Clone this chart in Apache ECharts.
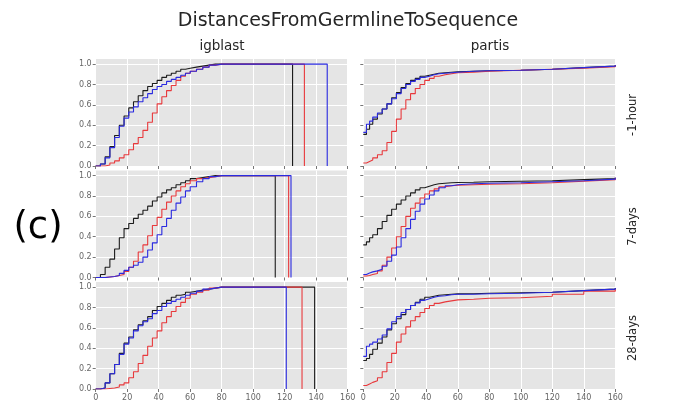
<!DOCTYPE html>
<html><head><meta charset="utf-8">
<script src="https://cdn.jsdelivr.net/npm/echarts@6/dist/echarts.min.js"></script>
<style>html,body{margin:0;padding:0;background:#fff}#c{width:677px;height:403px}</style>
</head><body><div id="c"></div>
<script>
// ---------- DATA ----------
const mainTitle = "DistancesFromGermlineToSequence";
const colTitles = ["igblast", "partis"];
const rowTitles = ["-1-hour", "7-days", "28-days"];
const panelLabel = "(c)";
const xTicks = [0, 20, 40, 60, 80, 100, 120, 140, 160];
const yTicks = [0.0, 0.2, 0.4, 0.6, 0.8, 1.0];

// cumulative fractions at these distances (igblast panels)
const xsLeft = [0,3,6,9,12,15,18,21,24,27,30,33,36,39,42,45,48,51,54,57,60,64,68,72,76,80];
// cumulative fractions at these distances (partis panels)
const xsRight = [0,2,4,6,9,12,15,18,21,24,27,30,33,36,39,42,45,48,52,56,60,70,80,100,120,140,160];

// igblast, -1-hour
const ig1hBlack = [0,0.02,0.09,0.19,0.30,0.40,0.49,0.57,0.63,0.69,0.74,0.78,0.81,0.84,0.87,0.89,0.91,0.93,0.95,0.96,0.97,0.98,0.99,1.0,1.0,1.0];
const ig1hRed   = [0,0,0.01,0.03,0.05,0.08,0.11,0.16,0.22,0.28,0.35,0.43,0.52,0.61,0.68,0.74,0.79,0.84,0.88,0.91,0.93,0.95,0.97,0.99,1.0,1.0];
const ig1hBlue  = [0,0.02,0.08,0.18,0.28,0.39,0.47,0.53,0.58,0.63,0.67,0.71,0.75,0.78,0.80,0.83,0.85,0.87,0.89,0.91,0.93,0.95,0.97,0.99,1.0,1.0];
const ig1hMax   = [125, 132.5, 147];   // black, red, blue
// igblast, 7-days
const ig7dBlack = [0,0.03,0.10,0.18,0.28,0.39,0.48,0.53,0.58,0.62,0.66,0.70,0.75,0.79,0.83,0.86,0.88,0.91,0.93,0.95,0.97,0.98,0.99,1.0,1.0,1.0];
const ig7dRed   = [0,0,0.005,0.01,0.02,0.03,0.06,0.10,0.16,0.25,0.32,0.41,0.51,0.59,0.67,0.74,0.80,0.85,0.89,0.92,0.95,0.97,0.98,0.99,1.0,1.0];
const ig7dBlue  = [0,0,0.005,0.01,0.02,0.04,0.07,0.10,0.12,0.15,0.20,0.27,0.34,0.42,0.50,0.58,0.66,0.73,0.79,0.85,0.89,0.94,0.97,0.99,1.0,1.0];
const ig7dMax   = [114, 122.5, 124];
// igblast, 28-days
const ig28Black = [0,0.01,0.06,0.15,0.24,0.35,0.45,0.51,0.58,0.63,0.67,0.71,0.77,0.81,0.84,0.87,0.90,0.92,0.93,0.95,0.96,0.97,0.98,0.99,1.0,1.0];
const ig28Red   = [0,0,0.005,0.01,0.02,0.04,0.06,0.11,0.17,0.25,0.33,0.42,0.50,0.57,0.65,0.71,0.76,0.81,0.85,0.89,0.93,0.95,0.97,0.99,1.0,1.0];
const ig28Blue  = [0,0.01,0.06,0.15,0.24,0.34,0.44,0.50,0.57,0.62,0.66,0.69,0.74,0.77,0.81,0.84,0.86,0.88,0.90,0.92,0.94,0.96,0.98,0.99,1.0,1.0];
const ig28Max   = [139, 131, 121];

// partis, -1-hour
const pa1hBlack = [0.31,0.36,0.41,0.46,0.51,0.56,0.61,0.67,0.72,0.77,0.81,0.84,0.86,0.88,0.89,0.90,0.91,0.915,0.92,0.925,0.93,0.935,0.94,0.95,0.965,0.98,0.99];
const pa1hRed   = [0.03,0.045,0.06,0.08,0.11,0.15,0.23,0.34,0.46,0.56,0.65,0.71,0.76,0.80,0.84,0.86,0.88,0.895,0.905,0.915,0.92,0.93,0.94,0.95,0.96,0.975,0.99];
const pa1hBlue  = [0.33,0.41,0.44,0.48,0.52,0.56,0.61,0.66,0.71,0.76,0.80,0.83,0.85,0.87,0.88,0.895,0.905,0.91,0.915,0.92,0.93,0.935,0.94,0.95,0.965,0.98,0.99];
// partis, 7-days
const pa7dBlack = [0.32,0.35,0.39,0.42,0.48,0.55,0.61,0.67,0.72,0.76,0.80,0.83,0.86,0.88,0.895,0.91,0.92,0.925,0.93,0.932,0.935,0.94,0.945,0.95,0.96,0.97,0.98];
const pa7dRed   = [0.015,0.02,0.03,0.04,0.065,0.12,0.20,0.29,0.40,0.50,0.60,0.68,0.73,0.78,0.82,0.85,0.87,0.89,0.90,0.905,0.91,0.915,0.92,0.93,0.945,0.96,0.98];
const pa7dBlue  = [0.03,0.045,0.055,0.065,0.08,0.11,0.16,0.22,0.30,0.39,0.48,0.57,0.65,0.72,0.77,0.81,0.85,0.88,0.90,0.91,0.92,0.925,0.93,0.94,0.95,0.965,0.98];
// partis, 28-days
const pa28Black = [0.28,0.30,0.34,0.39,0.45,0.51,0.58,0.64,0.69,0.73,0.78,0.82,0.85,0.88,0.90,0.91,0.92,0.925,0.93,0.933,0.935,0.94,0.945,0.95,0.965,0.98,0.99];
const pa28Red   = [0.035,0.05,0.065,0.08,0.11,0.17,0.26,0.35,0.46,0.54,0.61,0.67,0.71,0.75,0.79,0.82,0.84,0.855,0.865,0.875,0.88,0.89,0.895,0.91,0.93,0.96,0.98];
const pa28Blue  = [0.32,0.42,0.44,0.46,0.49,0.53,0.59,0.66,0.71,0.75,0.78,0.82,0.845,0.87,0.885,0.90,0.91,0.915,0.925,0.93,0.93,0.935,0.94,0.95,0.965,0.98,0.99];

// ---------- LAYOUT / STYLE ----------
const colors = ['#1c1c1c', '#e8393c', '#2a2ae0'];
const colLeft = [95.7, 363.3];
const colWidth = 252;
const rowTop = [59, 170.5, 282];
const rowHeight = 107;
const font = 'DejaVu Sans';

const panels = [
  {r:0,c:0, ys:[ig1hBlack, ig1hRed, ig1hBlue], max: ig1hMax},
  {r:0,c:1, ys:[pa1hBlack, pa1hRed, pa1hBlue]},
  {r:1,c:0, ys:[ig7dBlack, ig7dRed, ig7dBlue], max: ig7dMax},
  {r:1,c:1, ys:[pa7dBlack, pa7dRed, pa7dBlue]},
  {r:2,c:0, ys:[ig28Black, ig28Red, ig28Blue], max: ig28Max},
  {r:2,c:1, ys:[pa28Black, pa28Red, pa28Blue]},
];

const grid = [], xAxis = [], yAxis = [], series = [];
panels.forEach((p, i) => {
  grid.push({left: colLeft[p.c], top: rowTop[p.r], width: colWidth, height: rowHeight,
    show: true, backgroundColor: '#e5e5e5', borderWidth: 0, containLabel: false});
  xAxis.push({type: 'value', gridIndex: i, min: xTicks[0], max: xTicks[xTicks.length-1], interval: 20,
    axisLine: {show: false},
    axisTick: {show: true, length: 3, lineStyle: {color: '#777', width: 1}},
    axisLabel: {show: p.r === 2, fontFamily: font, fontSize: 8, color: '#666', margin: 5},
    splitLine: {show: true, lineStyle: {color: '#ffffff', width: 1}}});
  yAxis.push({type: 'value', gridIndex: i, min: 0, max: 1.05, interval: 0.2,
    axisLine: {show: false},
    axisTick: {show: true, length: 3, lineStyle: {color: '#777', width: 1}, customValues: yTicks},
    axisLabel: {show: p.c === 0, fontFamily: font, fontSize: 8, color: '#666', margin: 4,
      customValues: yTicks, formatter: v => v.toFixed(1)},
    splitLine: {show: true, lineStyle: {color: '#ffffff', width: 1}}});
  const xs = p.c === 0 ? xsLeft : xsRight;
  p.ys.forEach((ys, k) => {
    const data = xs.map((x, j) => [x, ys[j]]);
    if (p.max) { data.push([p.max[k], 1.0]); data.push([p.max[k], 0]); }
    series.push({type: 'line', xAxisIndex: i, yAxisIndex: i, data: data, step: 'end',
      showSymbol: false, symbol: 'none', clip: true,
      lineStyle: {color: colors[k], width: 1.1}, z: 2 + k});
  });
});

const graphic = [
  {type: 'text', x: 348, y: 21, style: {text: mainTitle, font: '19px "DejaVu Sans"', fill: '#262626', align: 'center', verticalAlign: 'middle'}},
  {type: 'text', x: 222, y: 46, style: {text: colTitles[0], font: '13.5px "DejaVu Sans"', fill: '#262626', align: 'center', verticalAlign: 'middle'}},
  {type: 'text', x: 490, y: 46, style: {text: colTitles[1], font: '13.5px "DejaVu Sans"', fill: '#262626', align: 'center', verticalAlign: 'middle'}},
  {type: 'text', x: 38, y: 228, style: {text: panelLabel, font: '37px "DejaVu Sans"', fill: '#000', align: 'center', verticalAlign: 'middle'}},
];
rowTitles.forEach((t, r) => {
  graphic.push({type: 'text', x: 633, y: rowTop[r] + 5 + (rowHeight - 5) / 2, rotation: Math.PI / 2,
    style: {text: t, font: '11.5px "DejaVu Sans"', fill: '#262626', align: 'center', verticalAlign: 'middle'}});
});

const chart = echarts.init(document.getElementById('c'), null, {renderer: 'canvas'});
chart.setOption({animation: false, backgroundColor: '#ffffff', grid, xAxis, yAxis, series, graphic});
</script>
</body></html>
